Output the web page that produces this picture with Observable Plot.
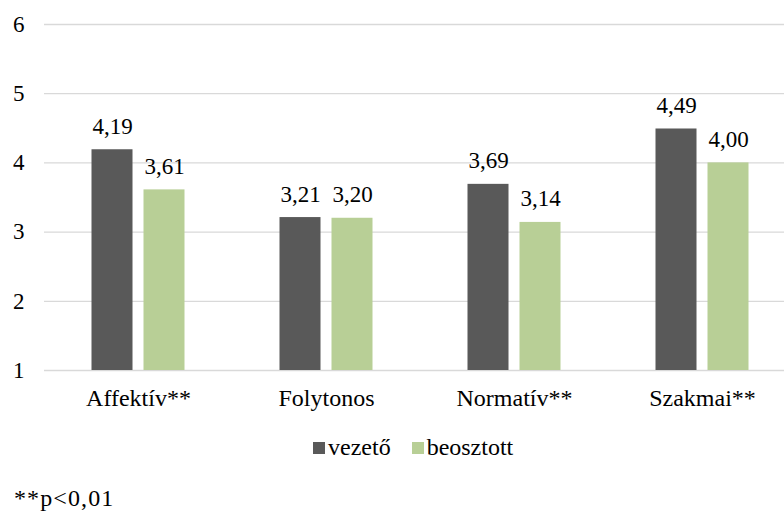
<!DOCTYPE html>
<html>
<head>
<meta charset="utf-8">
<script src="https://cdn.jsdelivr.net/npm/d3@7"></script>
<script src="https://cdn.jsdelivr.net/npm/@observablehq/plot@0.6"></script>
<style>
  html, body { margin: 0; padding: 0; background: #fff; }
  #wrap { position: relative; width: 784px; height: 513px; overflow: hidden; color: #000; }
  #wrap, #wrap * { font-family: "Liberation Serif", "Times New Roman", serif !important; }
  #chart { position: absolute; left: 0; top: 0; }
  #legend { position: absolute; left: 313px; top: 433px; font-size: 24px; line-height: 28px; display: flex; white-space: nowrap; }
  #legend .item { display: inline-flex; align-items: baseline; }
  #legend .sw { display: inline-block; width: 12px; height: 12px; margin-right: 3px; position: relative; top: -1px; }
  #caption { position: absolute; left: 14px; top: 484px; font-size: 24px; line-height: 28px; letter-spacing: 1.1px; white-space: nowrap; }
</style>
</head>
<body>
<div id="wrap">
  <div id="chart"></div>
  <div id="legend"></div>
  <div id="caption"></div>
</div>
<script>
const categories = ["Affektív**", "Folytonos", "Normatív**", "Szakmai**"];
const series = ["vezető", "beosztott"];
const vezeto = [4.19, 3.21, 3.69, 4.49];
const beosztott = [3.61, 3.20, 3.14, 4.00];
const yTicks = [1, 2, 3, 4, 5, 6];
const colors = ["#595959", "#b8cf96"];
const captionText = "**p<0,01";

const data = categories.flatMap((c, i) => [
  {cat: c, s: series[0], v: vezeto[i]},
  {cat: c, s: series[1], v: beosztott[i]}
]);
const fmt = v => v.toFixed(2).replace(".", ",");

const ML = 43.5;
const plot = Plot.plot({
  width: 784,
  height: 420,
  marginLeft: ML,
  marginRight: 0,
  marginTop: 24,
  marginBottom: 50,
  style: {fontFamily: "'Liberation Serif', 'Times New Roman', serif", fontSize: "23px", color: "#000", background: "white", overflow: "visible"},
  facet: {data, x: "cat"},
  fx: {domain: categories, range: [ML, ML + 752], paddingInner: 0, paddingOuter: 0, label: null, tickSize: 0, tickPadding: 18, axis: "bottom"},
  x: {domain: series, range: [ML + 47, ML + 142], paddingInner: 0.2075, paddingOuter: 0, axis: null},
  y: {domain: [1, 6], ticks: yTicks, tickSize: 0, tickPadding: 20, label: null, grid: false, tickFormat: d => String(d)},
  color: {domain: series, range: colors},
  marks: [
    Plot.ruleY(yTicks, {stroke: "#d9d9d9", strokeWidth: 1.3}),
    Plot.barY(data, {x: "s", y1: 1, y2: "v", fill: "s"}),
    Plot.text(data, {x: "s", y: "v", text: d => fmt(d.v), dy: -16, lineAnchor: "bottom", fontSize: 23, fill: "#000"})
  ]
});
document.getElementById("chart").appendChild(plot);
// category labels slightly larger than the numeric ticks
plot.querySelectorAll("g[aria-label='fx-axis'] text, g[aria-label='fx-axis tick label'] text").forEach(t => t.style.fontSize = "24px");

const legend = document.getElementById("legend");
series.forEach((s, i) => {
  const item = document.createElement("span");
  item.className = "item";
  if (i > 0) item.style.marginLeft = "21px";
  const sw = document.createElement("span");
  sw.className = "sw";
  sw.style.background = colors[i];
  item.appendChild(sw);
  item.appendChild(document.createTextNode(s));
  legend.appendChild(item);
});
document.getElementById("caption").textContent = captionText;
</script>
</body>
</html>
